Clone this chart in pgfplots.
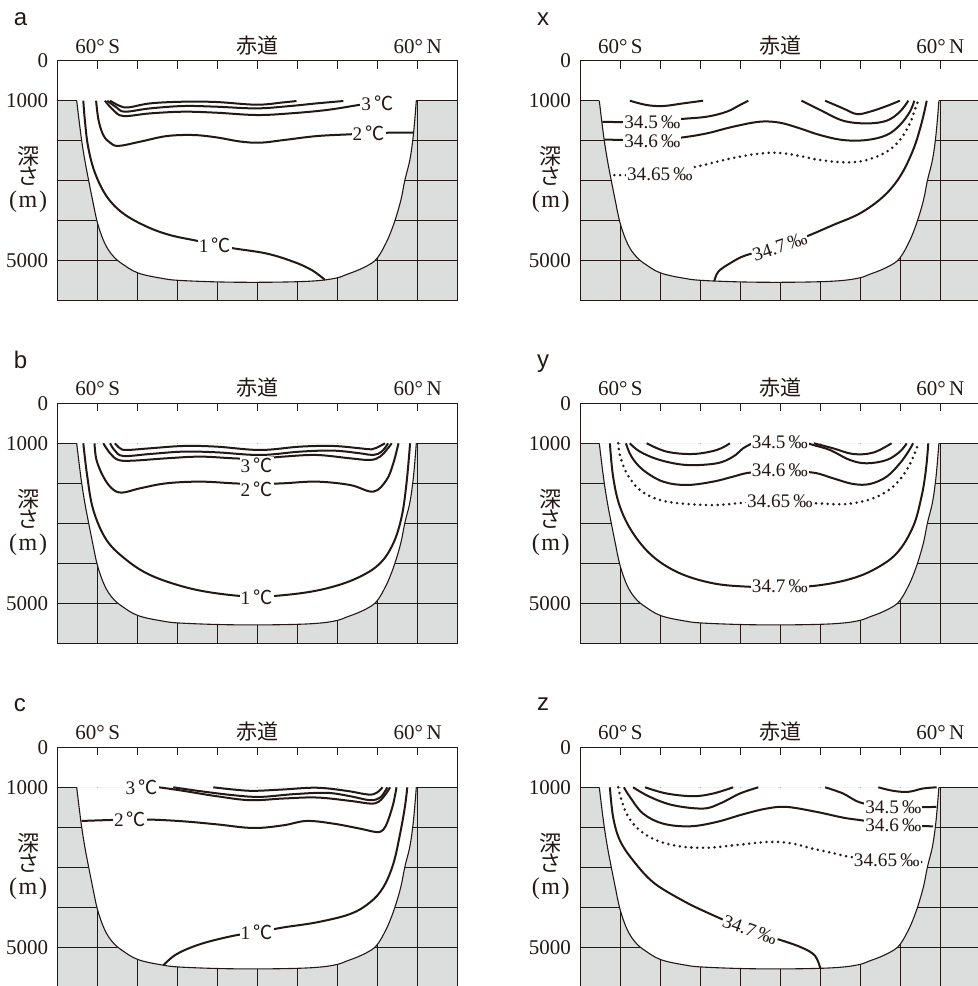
\documentclass[border=0pt]{standalone}
\usepackage{fontspec}
\setmainfont{Liberation Serif}
\newfontfamily\cjk{Noto Sans CJK JP}
\newfontfamily\sans{Liberation Sans}
\usepackage{pgfplots}
\pgfplotsset{compat=1.18}
\usepackage{pgfplotstable}

\definecolor{ink}{HTML}{231815}
\definecolor{land}{HTML}{DCDDDD}

% ocean basin outline (x: grid cells, d: depth in m)
\pgfplotstableread{
x d
0.475 1000
0.535 1500
0.60 2000
0.68 2500
0.775 3000
0.875 3500
0.98 4000
1.10 4380
1.22 4650
1.34 4830
1.48 4980
1.66 5110
1.88 5250
2.15 5350
2.6 5440
3.0 5490
4.0 5530
5.0 5540
6.0 5525
6.6 5490
7.0 5425
7.22 5345
7.5 5240
7.75 5120
7.93 5000
8.06 4830
8.16 4650
8.28 4400
8.43 4000
8.58 3483
8.68 2983
8.80 2500
8.875 2000
8.925 1500
8.965 1000
}\basin

% grid of the sea floor block
\pgfplotstableread{
x d
1 1000
1 6000
nan nan
2 1000
2 6000
nan nan
3 1000
3 6000
nan nan
4 1000
4 6000
nan nan
5 1000
5 6000
nan nan
6 1000
6 6000
nan nan
7 1000
7 6000
nan nan
8 1000
8 6000
nan nan
9 1000
9 6000
nan nan
0 2000
10 2000
nan nan
0 3000
10 3000
nan nan
0 4000
10 4000
nan nan
0 5000
10 5000
nan nan
0 1000
0.475 1000
nan nan
8.965 1000
10 1000
}\gridlines

\newcommand{\seafloor}{%
  \addplot[fill=land, draw=none] coordinates {(0,1000) (10,1000) (10,6000) (0,6000)} --cycle;
  \addplot[ink, line width=0.5pt] table[x=x,y=d] {\gridlines};
  \addplot[fill=white, draw=ink, line width=0.55pt, smooth, tension=0.6] table[x=x,y=d] {\basin};
}
\newcommand{\degC}{{\cjk ℃}}

\pgfplotsset{
  panel/.style={
    anchor=north west,
    scale only axis, width=200pt, height=120pt,
    xmin=0, xmax=10, ymin=0, ymax=6000, y dir=reverse,
    axis on top, clip=false, unbounded coords=jump,
    axis line style={ink, line width=0.7pt},
    xtick={1,2,...,9},
    xticklabels={60°\,S,,,,{\cjk 赤道},,,,60°\,N},
    xtick pos=right, xticklabel pos=right,
    tick align=inside, major tick length=4pt,
    xtick style={ink, line width=0.6pt},
    ytick={0,1000,5000}, yticklabels={0,1000,5000},
    ytick pos=left, ytick style={draw=none},
    xticklabel style={anchor=base, yshift=3.7pt, text=ink, font=\fontsize{10.5}{12}\selectfont},
    yticklabel style={xshift=-1.2pt, text=ink, font=\fontsize{10.5}{12}\selectfont},
    ylabel={{\cjk 深}\\{\cjk さ}\\[1.5pt]{\fontsize{12}{10}\selectfont(\kern0.8pt m\kern0.8pt)}},
    ylabel style={at={(axis description cs:-0.074,0.505)}, anchor=center, rotate=-90,
      align=center, text=ink, font=\fontsize{11}{10}\selectfont},
  },
  iso/.style={ink, line width=1pt, smooth, tension=0.6},
  dot/.style={ink, line width=1.4pt, line cap=round, dash pattern=on 0pt off 2.9pt, smooth, tension=0.6},
}
\tikzset{
  lab/.style={fill=white, inner sep=0.5pt, text=ink, font=\fontsize{9.6}{10}\selectfont},
  letter/.style={anchor=base west, text=ink, font=\sans\fontsize{12}{12}\selectfont},
}

\begin{document}
\begin{tikzpicture}
\useasboundingbox (0,0) rectangle (489pt,-493pt);

\node[letter] at (3.35pt,-12.5pt) {a};
\node[letter] at (265pt,-12.5pt) {x};
\node[letter] at (3.35pt,-184.15pt) {b};
\node[letter] at (265pt,-183.5pt) {y};
\node[letter] at (3.35pt,-355.85pt) {c};
\node[letter] at (265pt,-355.4pt) {z};

% ---------- a : temperature ----------
\begin{axis}[panel, at={(28.85pt,-30.35pt)}]
\seafloor
\addplot[iso] coordinates {(0.64,1000) (0.68,1500) (0.76,2150) (0.93,2800) (1.23,3400) (1.64,3820) (2.23,4150) (2.81,4360) (3.47,4500) (3.93,4600) (4.39,4690) (5.22,4820) (5.89,5025) (6.35,5233) (6.68,5478)};
\addplot[iso] coordinates {(0.96,1000) (1.02,1480) (1.14,1860) (1.31,2050) (1.52,2130) (2.06,2025) (2.72,1885) (3.39,1858) (3.97,1917) (4.56,2020) (5.06,2050) (5.64,1985) (6.47,1885) (7.31,1840) (7.77,1817) (8.3,1800) (8.88,1800)};
\addplot[iso] coordinates {(1.18,1000) (1.39,1233) (1.64,1383) (2.31,1317) (3.14,1275) (3.97,1300) (4.97,1358) (5.81,1317) (6.72,1233) (7.52,1108) (7.8,1075)};
\addplot[iso] coordinates {(1.24,1000) (1.47,1167) (1.68,1275) (2.31,1192) (3.14,1133) (3.97,1150) (4.97,1192) (5.81,1133) (6.47,1067) (7.14,1008)};
\addplot[iso] coordinates {(1.31,1000) (1.55,1130) (1.77,1167) (2.31,1067) (3.14,1025) (3.97,1033) (4.97,1100) (5.64,1042) (5.97,1008)};
\node[lab] at (axis cs:7.99,1067) {3\,\degC};
\node[lab] at (axis cs:7.77,1817) {2\,\degC};
\node[lab] at (axis cs:3.93,4620) {1\,\degC};
\end{axis}

% ---------- x : salinity ----------
\begin{axis}[panel, at={(290.15pt,-30.35pt)}]
\seafloor
\addplot[iso] coordinates {(1.24,1000) (1.66,1108) (2.07,1133) (2.57,1067) (3.07,1000)};
\addplot[iso] coordinates {(0.55,1530) (1.2,1535) (1.8,1535) (2.5,1460) (3.16,1400) (3.66,1275) (3.99,1108) (4.2,1000)};
\addplot[iso] coordinates {(5.53,1000) (6.0,1233) (6.57,1500) (7.16,1567) (7.66,1500) (7.99,1275) (8.2,1000)};
\addplot[iso] coordinates {(6.12,1000) (6.57,1192) (6.91,1333) (7.24,1275) (7.66,1133) (7.99,1000)};
\addplot[iso] coordinates {(0.6,1970) (1.2,1985) (1.8,1985) (2.5,1925) (3.16,1817) (3.82,1650) (4.49,1525) (4.99,1550) (5.49,1692) (5.99,1858) (6.57,1983) (7.16,1983) (7.66,1858) (7.99,1608) (8.24,1275) (8.35,1000)};
\addplot[dot] coordinates {(0.85,2860) (1.99,2833) (2.9,2650) (3.66,2467) (4.33,2342) (4.91,2300) (5.49,2383) (5.99,2483) (6.66,2542) (7.16,2483) (7.66,2275) (7.99,1983) (8.24,1567) (8.39,1150) (8.45,1000)};
\addplot[iso] coordinates {(3.35,5510) (3.45,5275) (3.74,5067) (4.16,4858) (4.99,4650) (5.74,4358) (6.32,4108) (6.99,3817) (7.57,3400) (7.99,2900) (8.32,2233) (8.53,1567) (8.66,1000)};
\node[lab] at (axis cs:1.8,1550) {34.5\,‰};
\node[lab] at (axis cs:1.8,2025) {34.6\,‰};
\node[lab] at (axis cs:1.99,2833) {34.65\,‰};
\node[lab, rotate=18] at (axis cs:4.99,4650) {34.7\,‰};
\end{axis}

% ---------- b : temperature ----------
\begin{axis}[panel, at={(28.85pt,-201.65pt)}]
\seafloor
\addplot[iso] coordinates {(0.64,1000) (0.74,1833) (0.89,2667) (1.22,3417) (1.72,3917) (2.31,4292) (3.14,4583) (3.97,4750) (4.97,4833) (6.06,4750) (6.89,4583) (7.56,4333) (8.06,4000) (8.39,3500) (8.6,2833) (8.72,2000) (8.81,1000)};
\addplot[iso] coordinates {(0.92,1000) (0.97,1417) (1.14,1833) (1.35,2125) (1.6,2233) (2.06,2125) (2.72,2000) (3.56,1958) (4.39,2000) (4.97,2020) (5.64,2000) (6.47,1958) (7.31,2042) (7.89,2208) (8.22,1917) (8.39,1500) (8.52,1000)};
\addplot[iso] coordinates {(1.14,1000) (1.31,1250) (1.52,1417) (1.89,1433) (2.72,1375) (3.56,1333) (4.39,1375) (4.97,1390) (5.64,1333) (6.47,1292) (7.31,1375) (7.81,1417) (8.06,1333) (8.22,1167) (8.35,1000)};
\addplot[iso] coordinates {(1.31,1000) (1.43,1183) (1.64,1317) (2.31,1267) (3.14,1208) (3.97,1225) (5.06,1292) (6.06,1208) (6.89,1183) (7.56,1250) (7.89,1292) (8.1,1208) (8.26,1000)};
\addplot[iso] coordinates {(1.43,1000) (1.56,1125) (1.72,1167) (2.31,1125) (3.14,1067) (3.97,1083) (5.06,1167) (6.06,1083) (6.89,1067) (7.56,1125) (7.85,1150) (8.06,1067) (8.18,1000)};
\node[lab] at (axis cs:4.975,1560) {3\,\degC};
\node[lab] at (axis cs:4.975,2140) {2\,\degC};
\node[lab] at (axis cs:4.975,4850) {1\,\degC};
\end{axis}

% ---------- y : salinity ----------
\begin{axis}[panel, at={(290.15pt,-201.65pt)}]
\seafloor
\addplot[iso] coordinates {(0.74,1000) (0.82,1833) (0.99,2583) (1.32,3250) (1.82,3833) (2.49,4250) (3.32,4500) (4.16,4583) (4.99,4590) (5.82,4567) (6.66,4417) (7.32,4167) (7.91,3750) (8.32,3083) (8.53,2333) (8.64,1667) (8.7,1000)};
\addplot[dot] coordinates {(0.95,1000) (0.99,1292) (1.16,1750) (1.49,2167) (1.99,2417) (2.66,2517) (3.41,2542) (4.16,2483) (4.99,2460) (5.91,2500) (6.66,2517) (7.32,2375) (7.82,2083) (8.16,1667) (8.36,1250) (8.45,1000)};
\addplot[iso] coordinates {(1.14,1000) (1.28,1333) (1.57,1667) (2.07,1958) (2.66,2042) (3.32,1958) (3.82,1833) (4.24,1733) (4.99,1690) (5.82,1733) (6.32,1875) (6.82,2017) (7.24,2017) (7.66,1833) (7.99,1500) (8.2,1208) (8.32,1000)};
\addplot[iso] coordinates {(1.24,1000) (1.49,1208) (1.99,1417) (2.66,1542) (3.41,1500) (3.82,1333) (4.07,1125) (4.3,1000)};
\addplot[iso] coordinates {(5.7,1000) (5.82,1042) (6.24,1167) (6.74,1417) (7.16,1500) (7.66,1417) (7.99,1208) (8.16,1000)};
\addplot[iso] coordinates {(1.66,1000) (2.16,1208) (2.82,1267) (3.41,1167) (3.74,1000)};
\addplot[iso] coordinates {(5.84,1000) (6.32,1125) (6.82,1267) (7.32,1233) (7.78,1000)};
\node[lab] at (axis cs:4.99,975) {34.5\,‰};
\node[lab] at (axis cs:4.99,1683) {34.6\,‰};
\node[lab] at (axis cs:4.99,2440) {34.65\,‰};
\node[lab] at (axis cs:4.99,4583) {34.7\,‰};
\end{axis}

% ---------- c : temperature ----------
\begin{axis}[panel, at={(28.85pt,-373.65pt)}]
\seafloor
\addplot[iso] coordinates {(2.64,5452) (2.97,5173) (3.56,4922) (4.39,4712) (4.97,4628) (5.64,4503) (6.47,4377) (7.31,4168) (7.81,3875) (8.14,3499) (8.39,2913) (8.56,2159) (8.68,1490) (8.74,1000)};
\addplot[iso] coordinates {(0.6,1841) (1.39,1815) (1.81,1808) (2.35,1808) (3.14,1850) (3.97,1925) (4.89,2017) (5.64,1950) (6.22,1841) (6.89,1908) (7.56,2034) (7.97,2118) (8.14,2059) (8.26,1825) (8.39,1406) (8.47,1000)};
\addplot[iso] coordinates {(2.45,1000) (2.56,1004) (3.14,1088) (3.97,1222) (4.81,1322) (5.64,1280) (6.47,1255) (7.31,1339) (7.81,1406) (8.02,1364) (8.18,1197) (8.31,1000)};
\addplot[iso] coordinates {(2.89,1000) (3.56,1096) (4.39,1197) (5.06,1239) (5.89,1172) (6.72,1138) (7.31,1222) (7.81,1322) (8.06,1255) (8.2,1071) (8.24,1000)};
\addplot[iso] coordinates {(3.89,1000) (4.39,1055) (4.89,1088) (5.64,1054) (6.47,1010) (7.22,1088) (7.76,1180) (7.97,1138) (8.12,1000)};
\node[lab] at (axis cs:2.1,988) {3\,\degC};
\node[lab] at (axis cs:1.81,1808) {2\,\degC};
\node[lab] at (axis cs:4.975,4628) {1\,\degC};
\end{axis}

% ---------- z : salinity ----------
\begin{axis}[panel, at={(290.15pt,-373.65pt)}]
\seafloor
\addplot[iso] coordinates {(0.74,1000) (0.82,1741) (0.99,2327) (1.32,2829) (1.82,3373) (2.49,3792) (3.16,4126) (4.24,4586) (5.07,4838) (5.57,5022) (5.87,5215) (6.0,5525)};
\addplot[dot] coordinates {(0.95,1000) (1.03,1322) (1.2,1741) (1.49,2076) (1.91,2327) (2.49,2477) (3.16,2511) (3.82,2452) (4.66,2369) (5.24,2394) (5.82,2536) (6.32,2645) (6.78,2745) (7.66,2829) (8.62,2871)};
\addplot[iso] coordinates {(1.09,1000) (1.24,1239) (1.57,1657) (2.07,1908) (2.74,1975) (3.41,1866) (4.07,1674) (4.66,1531) (5.16,1490) (5.91,1615) (6.57,1758) (7.03,1825) (7.82,1940) (8.82,1975)};
\addplot[iso] coordinates {(1.32,1000) (1.74,1239) (2.32,1448) (3.07,1531) (3.49,1406) (3.99,1155) (4.45,1000)};
\addplot[iso] coordinates {(1.62,1000) (2.16,1155) (2.82,1222) (3.32,1155) (3.82,1000)};
\addplot[iso] coordinates {(6.12,1000) (6.57,1155) (7.03,1389) (7.82,1490) (8.9,1490)};
\addplot[iso] coordinates {(7.45,1000) (7.82,1088) (8.2,1113) (8.57,1029) (8.91,1000)};
\node[lab] at (axis cs:7.825,1490) {34.5\,‰};
\node[lab] at (axis cs:7.825,1945) {34.6\,‰};
\node[lab] at (axis cs:7.66,2829) {34.65\,‰};
\node[lab, rotate=-20] at (axis cs:4.24,4570) {34.7\,‰};
\end{axis}
\end{tikzpicture}
\end{document}
